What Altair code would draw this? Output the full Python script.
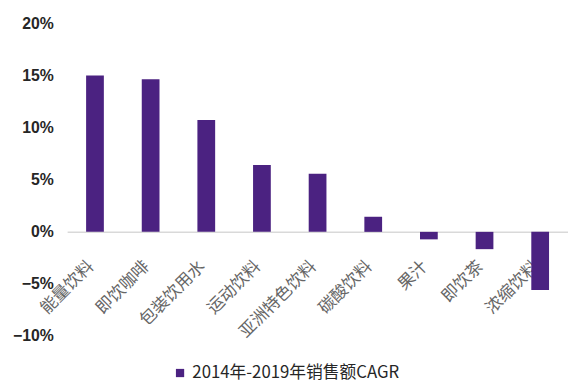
import altair as alt
import pandas as pd

categories = ["能量饮料", "即饮咖啡", "包装饮用水", "运动饮料", "亚洲特色饮料", "碳酸饮料", "果汁", "即饮茶", "浓缩饮料"]
values = [0.150, 0.1465, 0.1074, 0.0643, 0.0557, 0.0145, -0.0072, -0.0166, -0.0557]
series = "2014年-2019年销售额CAGR"
y_ticks = [-0.10, -0.05, 0.0, 0.05, 0.10, 0.15, 0.20]

df = pd.DataFrame({"cat": categories, "val": values, "series": [series] * len(categories)})

H = 317
offset = -H * (0.10 / 0.30)

chart = alt.Chart(df).mark_bar(size=18).encode(
    x=alt.X("cat:N", sort=categories, title=None,
            scale=alt.Scale(paddingInner=0.68, paddingOuter=0.34),
            axis=alt.Axis(labelAngle=-45, labelAlign="right", labelBaseline="middle",
                          labelPadding=32, labelOffset=-4, ticks=False,
                          domainColor="#d9d9d9", domainWidth=1.5, offset=offset,
                          labelFont="Noto Sans CJK SC", labelFontSize=17,
                          labelColor="#666666", labelOverlap=False, labelLimit=0)),
    y=alt.Y("val:Q", title=None,
            scale=alt.Scale(domain=[-0.10, 0.20], nice=False),
            axis=alt.Axis(values=y_ticks, format=".0%", grid=False, domain=False, ticks=False,
                          labelPadding=14, labelFont="Liberation Sans", labelFontSize=16,
                          labelFontWeight="bold", labelColor="#262626")),
    color=alt.Color("series:N", scale=alt.Scale(range=["#4B2281"]), title=None,
                    legend=alt.Legend(orient="none", legendX=106, legendY=346,
                                      symbolType="square", symbolSize=70,
                                      labelFont="Noto Sans CJK SC", labelFontSize=17,
                                      labelColor="#262626", labelLimit=0)),
).properties(
    width=508, height=H,
    padding={"left": 60, "top": 13, "right": 0, "bottom": 52},
    autosize=alt.AutoSizeParams(type="none"),
).configure_view(stroke=None)

chart.save("out.html", embed_options={"renderer": "svg", "actions": False})
